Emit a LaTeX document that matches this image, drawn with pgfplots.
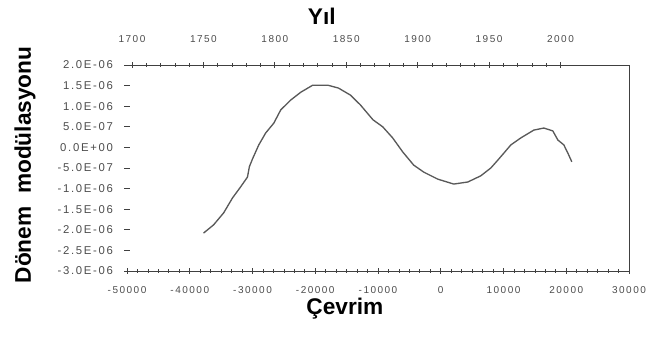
\documentclass[border=0pt]{standalone}
\usepackage{pgfplots}
\pgfplotsset{compat=1.18}
\usepackage{fontspec}
\setmainfont{Liberation Sans}
\newfontfamily\tickfont[LetterSpace=15]{Liberation Sans}

\begin{document}
\begin{tikzpicture}
\useasboundingbox (-95.25pt,-57.75pt) rectangle (390.75pt,203.25pt);
% cycle axis (bottom) with the period modulation curve
\begin{axis}[
  at={(0,0)}, anchor=south west,
  scale only axis, width=376.5pt, height=154.5pt,
  xmin=-50000, xmax=30000, ymin=-3e-6, ymax=2e-6,
  scaled ticks=false,
  axis x line*=bottom, axis y line*=left,
  y axis line style={draw=none},
  x axis line style={black!75, line width=0.6pt},
  tick align=center,
  major tick length=4pt, minor tick length=2.5pt,
  every tick/.style={black!75, line width=0.5pt},
  xtick={-50000,-40000,-30000,-20000,-10000,0,10000,20000,30000},
  xticklabels={-50000,-40000,-30000,-20000,-10000,0,10000,20000,30000},
  minor x tick num=5,
  ytick={-3e-6,-2.5e-6,-2e-6,-1.5e-6,-1e-6,-5e-7,0,5e-7,1e-6,1.5e-6,2e-6},
  yticklabels={-3.0E-06,-2.5E-06,-2.0E-06,-1.5E-06,-1.0E-06,-5.0E-07,0.0E+00,5.0E-07,1.0E-06,1.5E-06,2.0E-06},
  xticklabel style={font=\tickfont\fontsize{7.5}{9}\selectfont, text=black!70, yshift=-6pt},
  yticklabel style={font=\tickfont\fontsize{8.5}{9}\selectfont, text=black!70, xshift=-5pt},
  clip=false,
]
\addplot[black!65, line width=1pt] coordinates {
  (-37800,-2.08e-6) (-36200,-1.88e-6) (-34600,-1.59e-6) (-33200,-1.23e-6)
  (-31900,-0.96e-6) (-30800,-0.72e-6) (-30500,-0.47e-6) (-30000,-0.28e-6)
  (-29000,0.06e-6) (-27900,0.35e-6) (-26600,0.59e-6) (-25500,0.91e-6)
  (-23900,1.15e-6) (-22300,1.34e-6) (-20400,1.51e-6) (-18000,1.51e-6)
  (-16300,1.44e-6) (-14400,1.27e-6) (-12800,1.03e-6) (-10800,0.67e-6)
  (-9250,0.50e-6) (-7660,0.23e-6) (-6060,-0.11e-6) (-4310,-0.43e-6)
  (-2710,-0.60e-6) (-480,-0.77e-6) (2070,-0.89e-6) (4310,-0.84e-6)
  (6380,-0.69e-6) (7980,-0.50e-6) (9090,-0.31e-6) (10050,-0.14e-6)
  (11170,0.06e-6) (12760,0.23e-6) (14830,0.42e-6) (16430,0.47e-6)
  (17860,0.40e-6) (18660,0.18e-6) (19620,0.06e-6) (20260,-0.14e-6)
  (20890,-0.35e-6)
};
\node[font=\bfseries\fontsize{17}{20}\selectfont] at (axis description cs:0.434,-0.185) {Çevrim};
\node[font=\bfseries\fontsize{17}{20}\selectfont, rotate=90] at (axis description cs:-0.203,0.515) {Dönem\ \ modülasyonu};
\node[font=\bfseries\fontsize{17}{20}\selectfont] at (axis description cs:0.388,1.238) {Yıl};
\end{axis}
% year axis (top) and right frame
\begin{axis}[
  at={(0,0)}, anchor=south west,
  scale only axis, width=376.5pt, height=154.5pt,
  xmin=1696.5, xmax=2048, ymin=0, ymax=1,
  axis x line*=top, axis y line*=right,
  axis line style={black!75, line width=0.6pt},
  ytick=\empty,
  tick align=center,
  major tick length=4pt, minor tick length=2.5pt,
  every tick/.style={black!75, line width=0.5pt},
  xtick={1700,1750,1800,1850,1900,1950,2000},
  xticklabels={1700,1750,1800,1850,1900,1950,2000},
  minor x tick num=4,
  xticklabel style={font=\tickfont\fontsize{7.5}{9}\selectfont, text=black!70, yshift=11pt},
]
\end{axis}
\end{tikzpicture}
\end{document}
